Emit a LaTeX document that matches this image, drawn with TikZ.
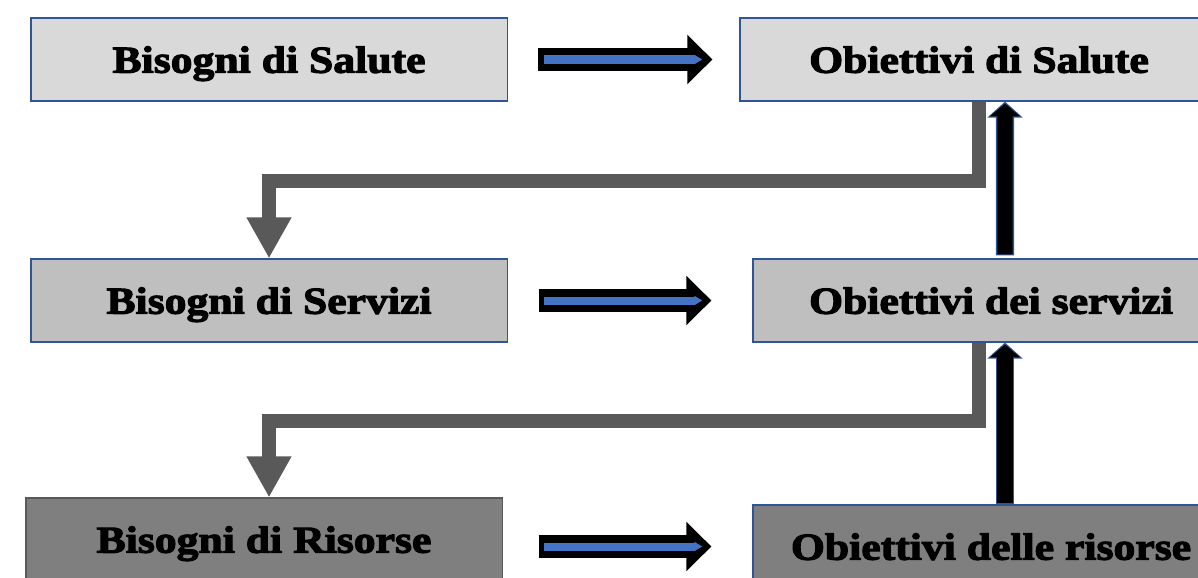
\documentclass[tikz,border=0pt]{standalone}
\usepackage{fontspec}
\newfontfamily\boxfont{Liberation Serif}[BoldFeatures={FakeBold=3,FakeStretch=1.15}]
\usetikzlibrary{arrows.meta}

\definecolor{boxline}{HTML}{2F5597}
\definecolor{lightfill}{HTML}{D9D9D9}
\definecolor{midfill}{HTML}{BFBFBF}
\definecolor{darkfill}{HTML}{7F7F7F}
\definecolor{elbowgray}{HTML}{595959}
\definecolor{stripe}{HTML}{4472C4}

\tikzset{
  box/.style={draw=boxline,line width=0.8pt,minimum width=11.9cm,minimum height=2.075cm,
    inner sep=0pt,text depth=0pt,font=\boxfont\bfseries\fontsize{27}{30}\selectfont},
  blockarrow/.style={black,line width=0.575cm,-{Triangle[length=0.625cm,width=1.2cm]}},
  stripearrow/.style={stripe,line width=0.2cm,-{Triangle[length=0.2cm,width=0.22cm]}},
  uparrow/.style={boxline,line width=0.46cm,-{Triangle[length=0.4cm,width=0.86cm]}},
  upfill/.style={black,line width=0.38cm,-{Triangle[length=0.32cm,width=0.74cm]}},
  elbow/.style={elbowgray,line width=0.35cm,line join=miter,-{Triangle[length=1.025cm,width=1.05cm]}}
}

\begin{document}
\begin{tikzpicture}[x=0.025cm,y=-0.025cm]
\useasboundingbox (0,0) rectangle (1198,578);

% needs (left) and objectives (right)
\node [box,fill=lightfill] (bs) at (269,59.5) {Bisogni di Salute};
\node [box,fill=lightfill,minimum width=11.95cm] (os) at (979,59.5) {Obiettivi di Salute};
\node [box,fill=midfill] (bsv) at (269,300.5) {Bisogni di Servizi};
\node [box,fill=midfill] (osv) at (991,300.5) {Obiettivi dei servizi};
\node [box,fill=darkfill,draw=elbowgray] (br) at (264,539.5) {Bisogni di Risorse};
\node [box,fill=darkfill] (or) at (991,546.5) {Obiettivi delle risorse};

%
% need -> objective
%
\draw [blockarrow,shorten <=0.75cm,shorten >=0.675cm] (bs.east) -- (os.west);
\draw [stripearrow,shorten <=0.9cm,shorten >=0.925cm] (bs.east) -- (os.west);
\draw [blockarrow,shorten <=0.775cm,shorten >=1.025cm] (bsv.east) -- (osv.west);
\draw [stripearrow,shorten <=0.9cm,shorten >=1.25cm] (bsv.east) -- (osv.west);
\draw [blockarrow,shorten <=0.9cm,shorten >=1.025cm] (br.east |- or) -- (or.west);
\draw [stripearrow,shorten <=1.025cm,shorten >=1.25cm] (br.east |- or) -- (or.west);

%
% objective -> next need
%
\draw [elbow] (os.south) -- ++(0,79) -| (bsv.north);
\draw [elbow] ([xshift=-0.3cm]osv.south) -- ++(0,78) -| ([xshift=0.125cm]br.north);

%
% feedback upwards
%
\draw [uparrow,shorten <=0.075cm] ([xshift=0.35cm]osv.north) -- ([xshift=0.65cm]os.south);
\draw [upfill,shorten <=0.1cm,shorten >=0.05cm] ([xshift=0.35cm]osv.north) -- ([xshift=0.65cm]os.south);
\draw [uparrow] ([xshift=0.35cm]or.north) -- ([xshift=0.35cm]osv.south);
\draw [upfill,shorten <=0.03cm,shorten >=0.05cm] ([xshift=0.35cm]or.north) -- ([xshift=0.35cm]osv.south);

\end{tikzpicture}
\end{document}
